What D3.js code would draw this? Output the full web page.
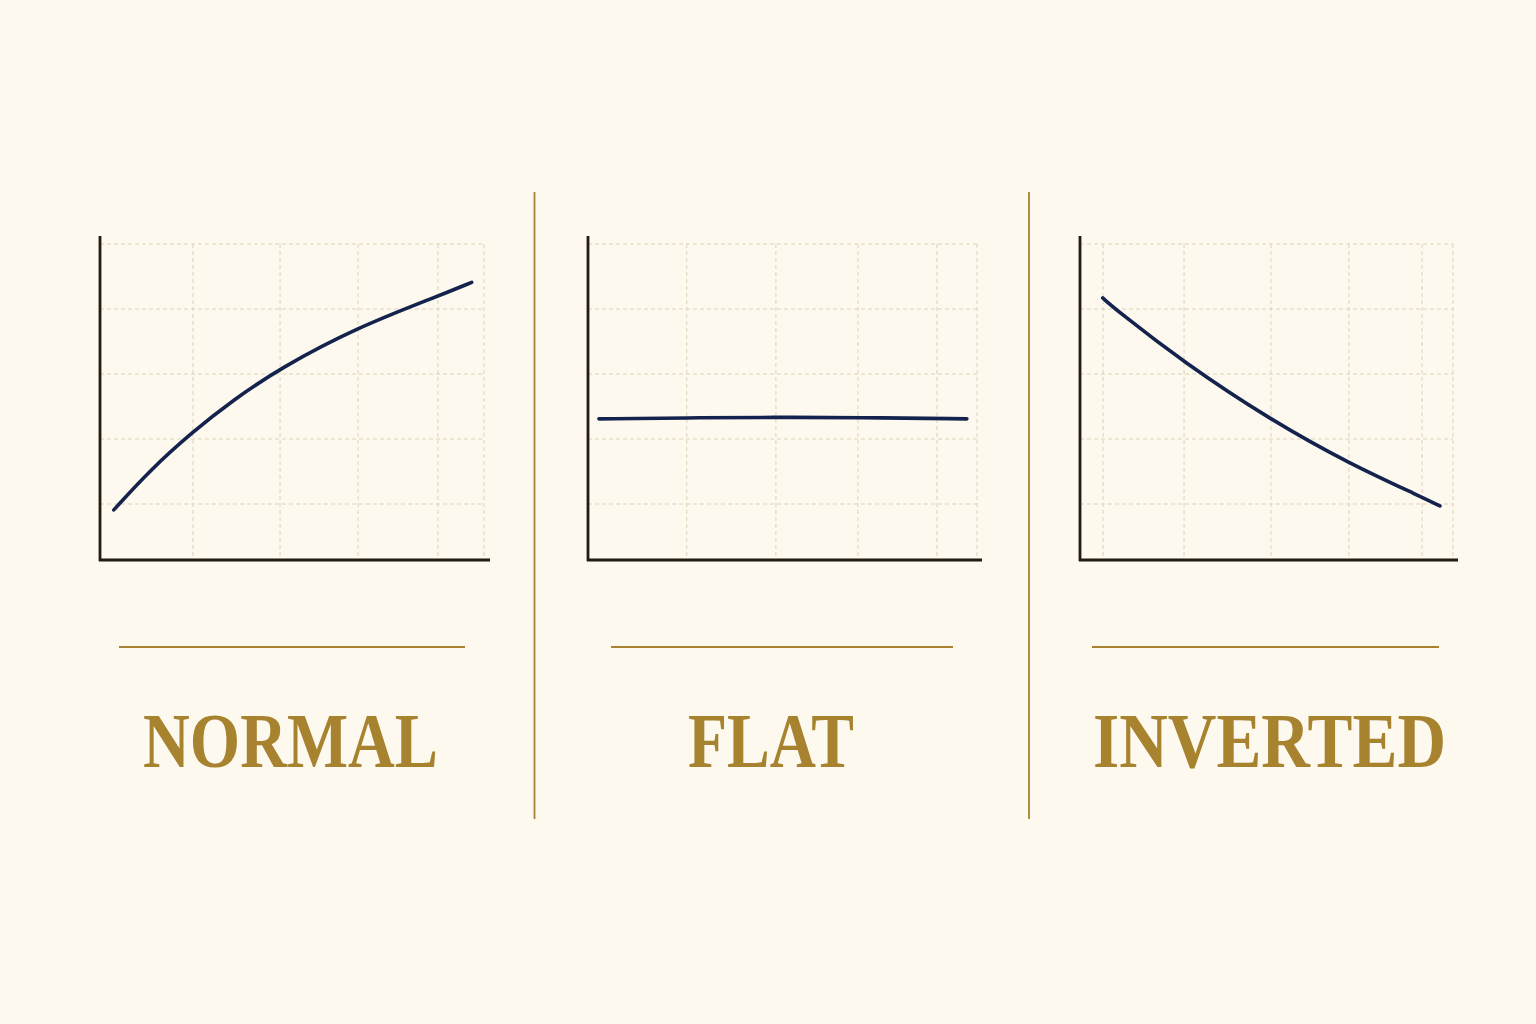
<!DOCTYPE html>
<meta charset="utf-8">

<!-- Load d3.js -->
<script src="https://d3js.org/d3.v7.min.js"></script>

<style>
    body { margin: 0; background: #fdf9ef; }
</style>

<div id="chart"></div>

<script>
    // Curve names
    const labels = ["NORMAL", "FLAT", "INVERTED"];

    // Curve points (maturity 0-100, yield level)
    const normalMaturity = [3.6, 13.0, 24.1, 34.7, 46.9, 67.1, 87.7, 96.8];
    const normalYield    = [0.91, 1.52, 2.11, 2.60, 3.09, 3.72, 4.19, 4.41];

    const flatMaturity = [2.8, 25.4, 48.3, 69.4, 97.4];
    const flatYield    = [2.31, 2.325, 2.335, 2.33, 2.31];

    const invertedMaturity = [6.1, 9.4, 28.0, 51.2, 72.2, 91.9, 96.5];
    const invertedYield    = [4.17, 4.00, 3.17, 2.29, 1.62, 1.10, 0.97];

    // Grid positions
    const gridYield = [1, 2, 3, 4, 5];
    const normalGridX   = [24.2, 46.9, 67.2, 88.0, 100];
    const flatGridX     = [25.4, 48.3, 69.4, 89.7, 100];
    const invertedGridX = [6.2, 27.9, 51.2, 72.1, 91.7, 100];

    const series = [
        {maturity: normalMaturity, yield: normalYield, grid: normalGridX},
        {maturity: flatMaturity, yield: flatYield, grid: flatGridX},
        {maturity: invertedMaturity, yield: invertedYield, grid: invertedGridX}
    ];

    // Panel layout
    const panels = [
        {left: 100, right: 484, axisEnd: 490, ruleX: [119, 465], labelX: 290.5, labelW: 295},
        {left: 588, right: 977, axisEnd: 982, ruleX: [611, 953], labelX: 771, labelW: 166},
        {left: 1080, right: 1453, axisEnd: 1458, ruleX: [1092, 1439], labelX: 1269.5, labelW: 353}
    ];
    const plotTop = 236, plotBottom = 560;

    const gold = "#a8832f",
          navy = "#14234d",
          ink = "#231a12",
          gridColor = "#ddd3b6";

    const svg = d3.select("#chart")
                .append("svg")
                .attr("width", 1536)
                .attr("height", 1024)
                .style("background", "#fdf9ef");

    // Shared y scale
    const y = d3.scaleLinear()
                .domain([0, 5])
                .range([569, 244]);

    // Dividers
    svg.selectAll(".divider")
        .data([534.5, 1029])
        .join("line")
            .attr("x1", d => d).attr("x2", d => d)
            .attr("y1", 192).attr("y2", 819)
            .attr("stroke", gold)
            .attr("stroke-width", 1.8);

    panels.forEach(function(p, i) {
        const s = series[i];
        const g = svg.append("g");

        const x = d3.scaleLinear()
                    .domain([0, 100])
                    .range([p.left, p.right]);

        // Grid
        g.selectAll(".gx")
            .data(s.grid)
            .join("line")
                .attr("x1", d => x(d)).attr("x2", d => x(d))
                .attr("y1", y(5)).attr("y2", plotBottom)
                .attr("stroke", gridColor)
                .attr("stroke-width", 1)
                .attr("stroke-dasharray", "4,3");

        g.selectAll(".gy")
            .data(gridYield)
            .join("line")
                .attr("x1", p.left).attr("x2", x(100))
                .attr("y1", d => y(d)).attr("y2", d => y(d))
                .attr("stroke", gridColor)
                .attr("stroke-width", 1)
                .attr("stroke-dasharray", "4,3");

        // Axes
        g.append("line")
            .attr("x1", p.left).attr("x2", p.left)
            .attr("y1", plotTop).attr("y2", plotBottom + 1)
            .attr("stroke", ink)
            .attr("stroke-width", 2.8);

        g.append("line")
            .attr("x1", p.left - 1).attr("x2", p.axisEnd)
            .attr("y1", plotBottom).attr("y2", plotBottom)
            .attr("stroke", ink)
            .attr("stroke-width", 2.8);

        // Curve
        const pts = s.maturity.map((m, k) => [m, s.yield[k]]);
        const line = d3.line()
                    .x(d => x(d[0]))
                    .y(d => y(d[1]))
                    .curve(d3.curveBasis);

        g.append("path")
            .datum(pts)
            .attr("d", line)
            .attr("fill", "none")
            .attr("stroke", navy)
            .attr("stroke-width", 3.6)
            .attr("stroke-linecap", "round");

        // Rule and label
        g.append("line")
            .attr("x1", p.ruleX[0]).attr("x2", p.ruleX[1])
            .attr("y1", 647).attr("y2", 647)
            .attr("stroke", gold)
            .attr("stroke-width", 1.8);

        g.append("text")
            .attr("x", p.labelX - p.labelW / 2)
            .attr("y", 767)
            .attr("textLength", p.labelW)
            .attr("lengthAdjust", "spacingAndGlyphs")
            .attr("font-family", "'Liberation Serif', 'DejaVu Serif', serif")
            .attr("font-weight", "bold")
            .attr("font-size", 78)
            .attr("fill", gold)
            .text(labels[i]);
    });
</script>
